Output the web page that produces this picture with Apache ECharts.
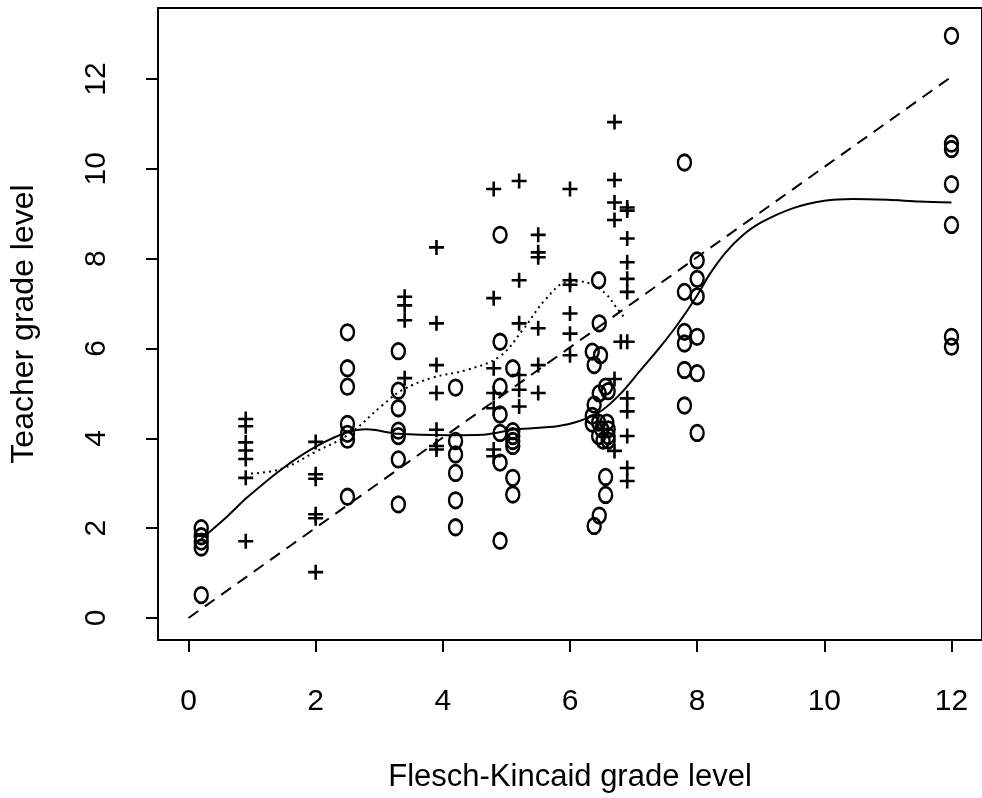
<!DOCTYPE html>
<html><head><meta charset="utf-8">
<script src="https://cdn.jsdelivr.net/npm/echarts@6/dist/echarts.min.js"></script>
<style>html,body{margin:0;padding:0;background:#fff}#c{width:982px;height:798px}</style>
</head><body><div id="c"></div>
<script>
const xTicks = [0, 2, 4, 6, 8, 10, 12];
const yTicks = [0, 2, 4, 6, 8, 10, 12];
const xTitle = 'Flesch-Kincaid grade level';
const yTitle = 'Teacher grade level';

// "o" points: [Flesch-Kincaid, teacher]
const circlePoints = [
  [0.2, 2.0], [0.2, 1.82], [0.2, 1.7], [0.2, 1.57], [0.2, 0.51],
  [2.5, 6.36], [2.5, 5.56], [2.5, 5.15], [2.5, 4.32], [2.5, 4.1], [2.5, 3.97], [2.5, 2.7],
  [3.3, 5.94], [3.3, 5.06], [3.3, 4.67], [3.3, 4.17], [3.3, 4.05], [3.3, 3.53], [3.3, 2.53],
  [4.2, 5.13], [4.2, 3.94], [4.2, 3.64], [4.2, 3.23], [4.2, 2.62], [4.2, 2.02],
  [4.9, 8.53], [4.9, 6.15], [4.9, 5.15], [4.9, 4.53], [4.9, 4.12], [4.9, 3.46], [4.9, 1.72],
  [5.1, 5.56], [5.1, 4.16], [5.1, 4.05], [5.1, 3.94], [5.1, 3.83], [5.1, 3.12], [5.1, 2.75],
  [6.45, 7.52], [6.46, 6.56], [6.35, 5.93], [6.48, 5.85], [6.38, 5.63], [6.56, 5.15], [6.46, 5.0],
  [6.6, 5.05], [6.38, 4.75], [6.35, 4.5], [6.35, 4.33], [6.45, 4.35], [6.58, 4.35], [6.5, 4.2],
  [6.6, 4.2], [6.45, 4.05], [6.6, 4.05], [6.52, 3.95], [6.6, 3.95], [6.56, 3.14], [6.56, 2.74],
  [6.46, 2.28], [6.38, 2.05],
  [7.8, 10.14], [7.8, 7.26], [7.8, 6.37], [7.8, 6.11], [7.8, 5.52], [7.8, 4.73],
  [8.0, 7.96], [8.0, 7.55], [8.0, 7.16], [8.0, 6.26], [8.0, 5.45], [8.0, 4.12],
  [12, 12.96], [12, 10.56], [12, 10.44], [12, 9.66], [12, 8.75], [12, 6.26], [12, 6.04]
];

// "+" points
const crossPoints = [
  [0.9, 4.43], [0.9, 4.27], [0.9, 3.91], [0.9, 3.73], [0.9, 3.54], [0.9, 3.12], [0.9, 1.71],
  [2.0, 3.92], [2.0, 3.2], [2.0, 3.1], [2.0, 2.31], [2.0, 2.22], [2.0, 1.02],
  [3.4, 7.15], [3.4, 6.96], [3.4, 6.63], [3.4, 5.34],
  [3.9, 8.25], [3.9, 6.56], [3.9, 5.63], [3.9, 5.01], [3.9, 4.19], [3.9, 3.83], [3.9, 3.75],
  [4.8, 9.55], [4.8, 7.12], [4.8, 5.56], [4.8, 5.01], [4.8, 4.67], [4.8, 3.75], [4.8, 3.6],
  [5.2, 9.73], [5.2, 7.52], [5.2, 6.56], [5.2, 5.41], [5.2, 5.08], [5.2, 4.71],
  [5.5, 8.53], [5.5, 8.14], [5.5, 8.03], [5.5, 6.45], [5.5, 5.63], [5.5, 5.01],
  [6.0, 9.55], [6.0, 7.52], [6.0, 7.42], [6.0, 6.78], [6.0, 6.33], [6.0, 5.85],
  [6.7, 11.04], [6.7, 9.75], [6.7, 9.25], [6.7, 8.86], [6.8, 6.15], [6.7, 5.32], [6.7, 3.72],
  [6.9, 9.14], [6.9, 9.07], [6.9, 8.45], [6.9, 7.92], [6.9, 7.55], [6.9, 7.26], [6.9, 6.15],
  [6.9, 4.89], [6.9, 4.6], [6.9, 4.05], [6.9, 3.34], [6.9, 3.05]
];

// dashed identity-like line
const dashedLine = [[0, 0], [12, 12.05]];

// solid smooth curve (all texts)
const solidCurve = [
  [0.2, 1.76], [0.6, 2.25], [0.92, 2.68], [1.49, 3.34], [2.01, 3.82], [2.51, 4.14], [2.8, 4.2],
  [3.3, 4.1], [4.1, 4.07], [4.63, 4.08], [5.15, 4.2], [5.8, 4.27], [6.14, 4.38], [6.5, 4.62],
  [6.8, 5.0], [7.1, 5.5], [7.4, 6.0], [7.7, 6.55], [8.0, 7.18], [8.2, 7.66], [8.45, 8.14],
  [8.7, 8.5], [9.0, 8.8], [9.5, 9.12], [10.0, 9.29], [10.45, 9.33], [11.0, 9.31], [11.5, 9.27], [12, 9.25]
];

// dotted curve ("+" texts)
const dottedCurve = [
  [0.89, 3.21], [1.44, 3.31], [2.01, 3.71], [2.51, 4.08], [3.06, 4.75], [3.37, 5.08], [3.84, 5.35],
  [4.37, 5.52], [4.89, 5.82], [5.25, 6.4], [5.62, 7.1], [5.96, 7.48], [6.14, 7.49], [6.32, 7.44],
  [6.56, 7.22], [6.72, 6.93], [6.85, 6.7]
];

const FONT = '"Liberation Sans", Arial, Helvetica, sans-serif';
const ELLIPSE = 'path://M0,-1 C0.552,-1 1,-0.552 1,0 C1,0.552 0.552,1 0,1 C-0.552,1 -1,0.552 -1,0 C-1,-0.552 -0.552,-1 0,-1 Z';
const chart = echarts.init(document.getElementById('c'), null, {renderer: 'canvas'});
chart.setOption({
  animation: false,
  backgroundColor: '#fff',
  grid: {left: 157, top: 8, width: 827, height: 635, show: true, borderColor: '#000', borderWidth: 2, backgroundColor: 'transparent'},
  xAxis: {
    type: 'value', min: -0.48, max: 12.48,
    name: xTitle, nameLocation: 'middle', nameGap: 122,
    nameTextStyle: {fontFamily: FONT, fontSize: 31, color: '#000'},
    axisLine: {show: true, onZero: false, lineStyle: {color: '#000', width: 2}},
    axisTick: {show: true, length: 12, lineStyle: {color: '#000', width: 2}, customValues: xTicks},
    axisLabel: {fontFamily: FONT, fontSize: 30, color: '#000', margin: 47, customValues: xTicks, formatter: v => String(v)},
    splitLine: {show: false}
  },
  yAxis: {
    type: 'value', min: -0.49, max: 13.58,
    name: yTitle, nameLocation: 'middle', nameGap: 118,
    nameTextStyle: {fontFamily: FONT, fontSize: 32, color: '#000'},
    axisLine: {show: true, onZero: false, lineStyle: {color: '#000', width: 2}},
    axisTick: {show: true, length: 12, lineStyle: {color: '#000', width: 2}, customValues: yTicks},
    axisLabel: {fontFamily: FONT, fontSize: 30, color: '#000', margin: 46, rotate: 90, customValues: yTicks, formatter: v => String(v)},
    splitLine: {show: false}
  },
  series: [
    {type: 'line', data: dashedLine, showSymbol: false, silent: true,
     lineStyle: {color: '#000', width: 2, type: [12, 8]}},
    {type: 'line', data: solidCurve, showSymbol: false, silent: true, smooth: 0.3,
     lineStyle: {color: '#000', width: 2}},
    {type: 'line', data: dottedCurve, showSymbol: false, silent: true, smooth: 0.4,
     lineStyle: {color: '#000', width: 2, type: [2, 4]}},
    {type: 'scatter', data: circlePoints, silent: true,
     symbol: ELLIPSE, symbolSize: [13, 15.5],
     itemStyle: {color: 'rgba(0,0,0,0)', borderColor: '#000', borderWidth: 2.6, opacity: 1}},
    {type: 'scatter', data: crossPoints, silent: true,
     symbol: 'path://M0,8 L16,8 M8,0 L8,16', symbolSize: [15, 15],
     itemStyle: {color: 'rgba(0,0,0,0)', borderColor: '#000', borderWidth: 2.6, opacity: 1}}
  ]
});
</script>
</body></html>
